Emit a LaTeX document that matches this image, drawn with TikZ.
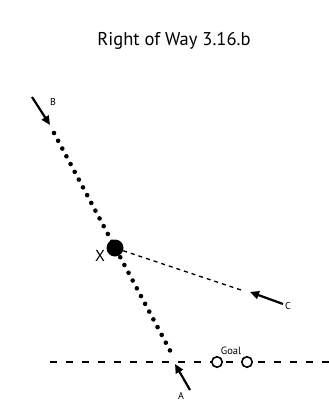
\documentclass[tikz,border=0pt]{standalone}
\usepackage{fontspec}
\setmainfont{PT Sans}
\usetikzlibrary{arrows.meta}
\begin{document}
\begin{tikzpicture}[x=1pt,y=-1pt,
  lbl/.style={font=\fontsize{10}{11}\selectfont, inner sep=0pt},
  mover/.style={line width=2.2pt, -{Triangle[length=9pt,width=8pt]}},
  pathdots/.style={line width=4.6pt, line cap=round, dash pattern=on 0pt off 8.8pt},
  pathdash/.style={line width=1.4pt, dash pattern=on 4pt off 4pt},
  goalline/.style={line width=1.8pt, dash pattern=on 7pt off 9pt},
  post/.style={circle, draw, line width=1.6pt, fill=white, minimum size=10.5pt, inner sep=0pt}]
\useasboundingbox (0,0) rectangle (329,415);
\fill[white] (0,0) rectangle (329,415);
\node[font=\fontsize{18.5}{20}\selectfont] (title) at (174,41) {Right of Way 3.16.b};
% goal line
\coordinate (gl) at (50,362);
\coordinate (gr) at (329,362);
\draw[goalline] (gl) -- (gr);
\node[post] (p1) at (217,362) {};
\node[post] (p2) at (247,362) {};
\node[inner sep=0pt, font=\fontsize{10.5}{11}\selectfont] (goal) at (231,351) {Goal};
% player path B -> A
\coordinate (bs) at (54,133);
\coordinate (ae) at (174,358);
\draw[pathdots] (bs) -- (ae);
% X
\node[circle, fill=black, minimum size=17pt, inner sep=0pt] (x) at (115,248) {};
\node[font=\fontsize{16}{17}\selectfont, inner sep=0pt] (xl) at (100,256) {X};
% C path
\coordinate (ce) at (244,291);
\draw[pathdash] (x) -- (ce);
% arrows
\coordinate (b0) at (32,97);
\coordinate (b1) at (50,125);
\draw[mover] (b0) -- (b1);
\node[lbl] (b) at (53,102) {B};
\coordinate (c0) at (283,304);
\coordinate (c1) at (250,292);
\draw[mover] (c0) -- (c1);
\node[lbl] (c) at (288,306) {C};
\coordinate (a0) at (190,390);
\coordinate (a1) at (175,364);
\draw[mover] (a0) -- (a1);
\node[lbl] (a) at (181,396) {A};
\end{tikzpicture}
\end{document}
